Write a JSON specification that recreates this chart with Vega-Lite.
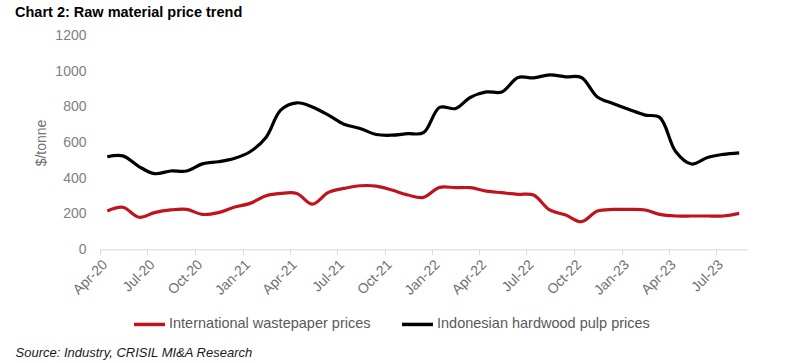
{
  "$schema": "https://vega.github.io/schema/vega-lite/v6.json",
  "autosize": "none",
  "width": 648,
  "height": 213.6,
  "padding": {"left": 100, "top": 35.7, "right": 52, "bottom": 113.7},
  "background": "white",
  "config": {
    "font": "Liberation Sans",
    "view": {"stroke": null}
  },
  "title": {
    "text": "Chart 2: Raw material price trend",
    "anchor": "start",
    "frame": "group",
    "dx": -85,
    "offset": 8,
    "fontSize": 14.5,
    "fontWeight": "bold",
    "color": "#000000",
    "font": "Liberation Sans"
  },
  "data": {
    "values": [
      {"date": "2020-04-15", "series": "International wastepaper prices", "price": 215},
      {"date": "2020-05-15", "series": "International wastepaper prices", "price": 236},
      {"date": "2020-06-15", "series": "International wastepaper prices", "price": 180},
      {"date": "2020-07-15", "series": "International wastepaper prices", "price": 206},
      {"date": "2020-08-15", "series": "International wastepaper prices", "price": 221},
      {"date": "2020-09-15", "series": "International wastepaper prices", "price": 224},
      {"date": "2020-10-15", "series": "International wastepaper prices", "price": 196},
      {"date": "2020-11-15", "series": "International wastepaper prices", "price": 206},
      {"date": "2020-12-15", "series": "International wastepaper prices", "price": 236},
      {"date": "2021-01-15", "series": "International wastepaper prices", "price": 258},
      {"date": "2021-02-15", "series": "International wastepaper prices", "price": 301},
      {"date": "2021-03-15", "series": "International wastepaper prices", "price": 314},
      {"date": "2021-04-15", "series": "International wastepaper prices", "price": 314},
      {"date": "2021-05-15", "series": "International wastepaper prices", "price": 254},
      {"date": "2021-06-15", "series": "International wastepaper prices", "price": 320},
      {"date": "2021-07-15", "series": "International wastepaper prices", "price": 342},
      {"date": "2021-08-15", "series": "International wastepaper prices", "price": 357},
      {"date": "2021-09-15", "series": "International wastepaper prices", "price": 355},
      {"date": "2021-10-15", "series": "International wastepaper prices", "price": 333},
      {"date": "2021-11-15", "series": "International wastepaper prices", "price": 305},
      {"date": "2021-12-15", "series": "International wastepaper prices", "price": 292},
      {"date": "2022-01-15", "series": "International wastepaper prices", "price": 348},
      {"date": "2022-02-15", "series": "International wastepaper prices", "price": 346},
      {"date": "2022-03-15", "series": "International wastepaper prices", "price": 346},
      {"date": "2022-04-15", "series": "International wastepaper prices", "price": 327},
      {"date": "2022-05-15", "series": "International wastepaper prices", "price": 318},
      {"date": "2022-06-15", "series": "International wastepaper prices", "price": 309},
      {"date": "2022-07-15", "series": "International wastepaper prices", "price": 305},
      {"date": "2022-08-15", "series": "International wastepaper prices", "price": 221},
      {"date": "2022-09-15", "series": "International wastepaper prices", "price": 193},
      {"date": "2022-10-15", "series": "International wastepaper prices", "price": 155},
      {"date": "2022-11-15", "series": "International wastepaper prices", "price": 215},
      {"date": "2022-12-15", "series": "International wastepaper prices", "price": 224},
      {"date": "2023-01-15", "series": "International wastepaper prices", "price": 224},
      {"date": "2023-02-15", "series": "International wastepaper prices", "price": 221},
      {"date": "2023-03-15", "series": "International wastepaper prices", "price": 196},
      {"date": "2023-04-15", "series": "International wastepaper prices", "price": 187},
      {"date": "2023-05-15", "series": "International wastepaper prices", "price": 187},
      {"date": "2023-06-15", "series": "International wastepaper prices", "price": 187},
      {"date": "2023-07-15", "series": "International wastepaper prices", "price": 187},
      {"date": "2023-08-15", "series": "International wastepaper prices", "price": 202},
      {"date": "2020-04-15", "series": "Indonesian hardwood pulp prices", "price": 520},
      {"date": "2020-05-15", "series": "Indonesian hardwood pulp prices", "price": 525},
      {"date": "2020-06-15", "series": "Indonesian hardwood pulp prices", "price": 465},
      {"date": "2020-07-15", "series": "Indonesian hardwood pulp prices", "price": 425},
      {"date": "2020-08-15", "series": "Indonesian hardwood pulp prices", "price": 440},
      {"date": "2020-09-15", "series": "Indonesian hardwood pulp prices", "price": 440},
      {"date": "2020-10-15", "series": "Indonesian hardwood pulp prices", "price": 480},
      {"date": "2020-11-15", "series": "Indonesian hardwood pulp prices", "price": 492},
      {"date": "2020-12-15", "series": "Indonesian hardwood pulp prices", "price": 510},
      {"date": "2021-01-15", "series": "Indonesian hardwood pulp prices", "price": 548},
      {"date": "2021-02-15", "series": "Indonesian hardwood pulp prices", "price": 630},
      {"date": "2021-03-15", "series": "Indonesian hardwood pulp prices", "price": 782},
      {"date": "2021-04-15", "series": "Indonesian hardwood pulp prices", "price": 823},
      {"date": "2021-05-15", "series": "Indonesian hardwood pulp prices", "price": 800},
      {"date": "2021-06-15", "series": "Indonesian hardwood pulp prices", "price": 754},
      {"date": "2021-07-15", "series": "Indonesian hardwood pulp prices", "price": 703},
      {"date": "2021-08-15", "series": "Indonesian hardwood pulp prices", "price": 679},
      {"date": "2021-09-15", "series": "Indonesian hardwood pulp prices", "price": 645},
      {"date": "2021-10-15", "series": "Indonesian hardwood pulp prices", "price": 641},
      {"date": "2021-11-15", "series": "Indonesian hardwood pulp prices", "price": 650},
      {"date": "2021-12-15", "series": "Indonesian hardwood pulp prices", "price": 655},
      {"date": "2022-01-15", "series": "Indonesian hardwood pulp prices", "price": 797},
      {"date": "2022-02-15", "series": "Indonesian hardwood pulp prices", "price": 791},
      {"date": "2022-03-15", "series": "Indonesian hardwood pulp prices", "price": 853},
      {"date": "2022-04-15", "series": "Indonesian hardwood pulp prices", "price": 884},
      {"date": "2022-05-15", "series": "Indonesian hardwood pulp prices", "price": 884},
      {"date": "2022-06-15", "series": "Indonesian hardwood pulp prices", "price": 965},
      {"date": "2022-07-15", "series": "Indonesian hardwood pulp prices", "price": 963},
      {"date": "2022-08-15", "series": "Indonesian hardwood pulp prices", "price": 980},
      {"date": "2022-09-15", "series": "Indonesian hardwood pulp prices", "price": 969},
      {"date": "2022-10-15", "series": "Indonesian hardwood pulp prices", "price": 965},
      {"date": "2022-11-15", "series": "Indonesian hardwood pulp prices", "price": 856},
      {"date": "2022-12-15", "series": "Indonesian hardwood pulp prices", "price": 819},
      {"date": "2023-01-15", "series": "Indonesian hardwood pulp prices", "price": 785},
      {"date": "2023-02-15", "series": "Indonesian hardwood pulp prices", "price": 754},
      {"date": "2023-03-15", "series": "Indonesian hardwood pulp prices", "price": 741},
      {"date": "2023-04-15", "series": "Indonesian hardwood pulp prices", "price": 548},
      {"date": "2023-05-15", "series": "Indonesian hardwood pulp prices", "price": 479},
      {"date": "2023-06-15", "series": "Indonesian hardwood pulp prices", "price": 516},
      {"date": "2023-07-15", "series": "Indonesian hardwood pulp prices", "price": 533},
      {"date": "2023-08-15", "series": "Indonesian hardwood pulp prices", "price": 542}
    ]
  },
  "mark": {"type": "line", "interpolate": "catmull-rom", "strokeWidth": 3.2},
  "encoding": {
    "x": {
      "field": "date",
      "type": "temporal",
      "scale": {
        "type": "utc",
        "domain": [
          {"year": 2020, "month": 4, "date": 1, "utc": true},
          {"year": 2023, "month": 9, "date": 1, "utc": true}
        ]
      },
      "axis": {
        "values": [
          {"year": 2020, "month": 4, "date": 1, "utc": true},
          {"year": 2020, "month": 7, "date": 1, "utc": true},
          {"year": 2020, "month": 10, "date": 1, "utc": true},
          {"year": 2021, "month": 1, "date": 1, "utc": true},
          {"year": 2021, "month": 4, "date": 1, "utc": true},
          {"year": 2021, "month": 7, "date": 1, "utc": true},
          {"year": 2021, "month": 10, "date": 1, "utc": true},
          {"year": 2022, "month": 1, "date": 1, "utc": true},
          {"year": 2022, "month": 4, "date": 1, "utc": true},
          {"year": 2022, "month": 7, "date": 1, "utc": true},
          {"year": 2022, "month": 10, "date": 1, "utc": true},
          {"year": 2023, "month": 1, "date": 1, "utc": true},
          {"year": 2023, "month": 4, "date": 1, "utc": true},
          {"year": 2023, "month": 7, "date": 1, "utc": true}
        ],
        "labelExpr": "utcFormat(datum.value, '%b-%y')",
        "labelAngle": -45,
        "labelFontSize": 14,
        "labelColor": "#707070",
        "labelPadding": 3,
        "labelOverlap": false,
        "labelFlush": false,
        "grid": false,
        "domain": true,
        "domainColor": "#d9d9d9",
        "domainWidth": 1,
        "ticks": true,
        "tickColor": "#d9d9d9",
        "tickSize": 5,
        "title": "Source: Industry, CRISIL MI&A Research",
        "titleX": -85,
        "titleY": 103,
        "titleAlign": "left",
        "titleAnchor": null,
        "titleAngle": 0,
        "titleBaseline": "middle",
        "titleFontSize": 13,
        "titleFontStyle": "italic",
        "titleFontWeight": "normal",
        "titleColor": "#1a1a1a"
      }
    },
    "y": {
      "field": "price",
      "type": "quantitative",
      "scale": {"domain": [0, 1200], "nice": false},
      "axis": {
        "values": [0, 200, 400, 600, 800, 1000, 1200],
        "format": "d",
        "grid": false,
        "domain": false,
        "ticks": false,
        "labelPadding": 14,
        "labelFontSize": 14,
        "labelColor": "#808080",
        "title": "$/tonne",
        "titleFontSize": 14,
        "titleFontWeight": "normal",
        "titleColor": "#707070",
        "titlePadding": 6
      }
    },
    "color": {
      "field": "series",
      "type": "nominal",
      "scale": {
        "domain": ["International wastepaper prices", "Indonesian hardwood pulp prices"],
        "range": ["#c0141c", "#000000"]
      },
      "legend": {
        "title": null,
        "orient": "none",
        "direction": "horizontal",
        "legendX": 32,
        "legendY": 271,
        "symbolType": "stroke",
        "symbolSize": 961,
        "symbolStrokeWidth": 3.5,
        "labelOffset": 2,
        "labelFontSize": 14.5,
        "labelColor": "#595959",
        "columnPadding": 24,
        "labelLimit": 400
      }
    }
  }
}
